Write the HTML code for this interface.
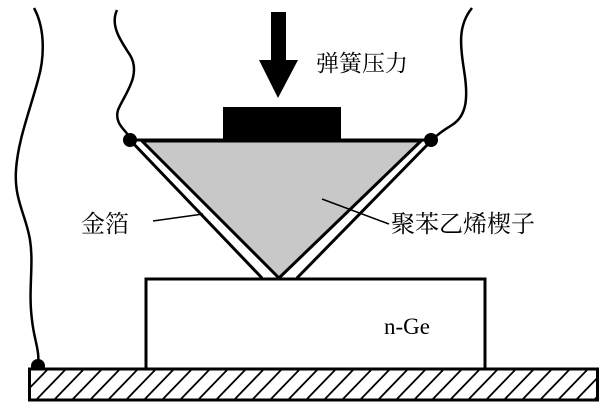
<!DOCTYPE html>
<html><head><meta charset="utf-8"><style>
html,body{margin:0;padding:0;background:#fff;}
svg{display:block;}
text{font-family:"Liberation Serif","Noto Serif CJK SC",serif;fill:#000;}
</style></head><body>
<svg width="604" height="406" viewBox="0 0 604 406" xmlns="http://www.w3.org/2000/svg">
<defs>
<clipPath id="bc"><rect x="30" y="370" width="567" height="29"/></clipPath>
</defs>
<g fill="none" stroke="#000" stroke-width="2.5">
<path d="M34,8 C46,30 44,60 38,80 C30,110 18,140 16,170 C14,200 26,215 30,240 C34,265 28,290 32,320 C34,340 40,350 38,366"/>
<path d="M117,10 C110,25 120,40 130,55 C142,75 124,95 118,110 C114,124 126,130 130,138"/>
<path d="M472,8 C458,25 460,45 464,70 C468,95 468,115 452,125 C442,131 436,136 432,140"/>
</g>
<rect x="271" y="12" width="15" height="50" fill="#000"/>
<polygon points="259,60 298,60 278,98" fill="#000"/>
<rect x="223" y="107" width="118" height="33" fill="#000"/>
<line x1="130" y1="140" x2="262" y2="278" stroke="#000" stroke-width="3"/>
<line x1="432" y1="140" x2="297" y2="278" stroke="#000" stroke-width="3"/>
<polygon points="142,141 421,141 279,278" fill="#c8c8c8" stroke="#000" stroke-width="3" stroke-linejoin="miter"/>
<line x1="130" y1="140" x2="432" y2="140" stroke="#000" stroke-width="3"/>
<circle cx="130" cy="140" r="7" fill="#000"/>
<circle cx="431" cy="140" r="7" fill="#000"/>
<circle cx="38" cy="366" r="7" fill="#000"/>
<line x1="153" y1="221" x2="203" y2="214" stroke="#000" stroke-width="1.5"/>
<line x1="322" y1="199" x2="389" y2="224" stroke="#000" stroke-width="1.5"/>
<rect x="146" y="279" width="339" height="90" fill="#fff" stroke="#000" stroke-width="3"/>
<rect x="29.5" y="369" width="568" height="31" fill="#fff" stroke="#000" stroke-width="3"/>
<g clip-path="url(#bc)" stroke="#000" stroke-width="1.8">
<path d="M18,400 L48,369 M36,400 L66,369 M54,400 L84,369 M72,400 L102,369 M90,400 L120,369 M108,400 L138,369 M126,400 L156,369 M144,400 L174,369 M162,400 L192,369 M180,400 L210,369 M198,400 L228,369 M216,400 L246,369 M234,400 L264,369 M252,400 L282,369 M270,400 L300,369 M288,400 L318,369 M306,400 L336,369 M324,400 L354,369 M342,400 L372,369 M360,400 L390,369 M378,400 L408,369 M396,400 L426,369 M414,400 L444,369 M432,400 L462,369 M450,400 L480,369 M468,400 L498,369 M486,400 L516,369 M504,400 L534,369 M522,400 L552,369 M540,400 L570,369 M558,400 L588,369 M576,400 L606,369 M594,400 L624,369"/>
</g>
<text x="316" y="71" font-size="23">弹簧压力</text>
<text x="81" y="232" font-size="24">金箔</text>
<text x="391" y="232" font-size="24">聚苯乙烯楔子</text>
<text x="384" y="334" font-size="23" font-family="Liberation Serif, serif">n-Ge</text>
</svg>
</body></html>
